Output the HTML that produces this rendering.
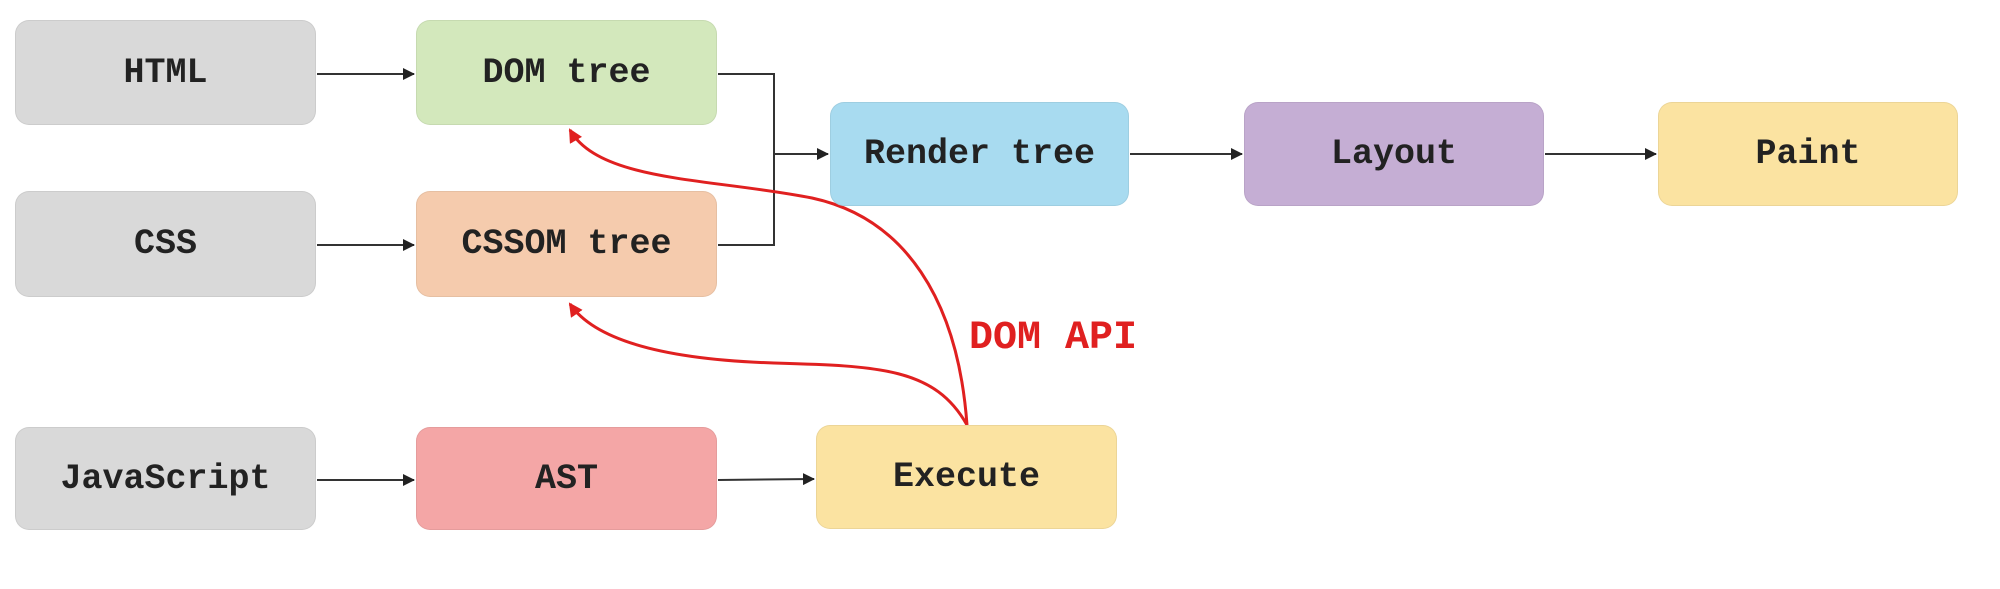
<!DOCTYPE html>
<html><head><meta charset="utf-8"><style>
body{margin:0;background:#fff;width:2000px;height:589px;overflow:hidden;position:relative;font-family:"Liberation Mono","DejaVu Sans Mono",monospace;}
.b{position:absolute;border-radius:14px;display:flex;align-items:center;justify-content:center;font-weight:bold;font-size:35px;color:#222;box-sizing:border-box;border:1px solid rgba(0,0,0,0.06)}
svg{position:absolute;left:0;top:0}
</style></head><body>
<svg width="2000" height="589">
<defs>
<marker id="a" markerWidth="12" markerHeight="12" refX="11" refY="6" orient="auto" markerUnits="userSpaceOnUse"><path d="M0,0 L12,6 L0,12 z" fill="#222"/></marker>
<marker id="r" markerWidth="14" markerHeight="14" refX="12" refY="7" orient="auto" markerUnits="userSpaceOnUse"><path d="M0,0 L14,7 L0,14 z" fill="#e02020"/></marker>
</defs>
<g stroke="#333" stroke-width="2" fill="none">
<line x1="317" y1="74" x2="414" y2="74" marker-end="url(#a)"/>
<line x1="317" y1="245" x2="414" y2="245" marker-end="url(#a)"/>
<line x1="317" y1="480" x2="414" y2="480" marker-end="url(#a)"/>
<line x1="718" y1="480" x2="814" y2="479" marker-end="url(#a)"/>
<polyline points="718,74 774,74 774,245 718,245"/>
<line x1="774" y1="154" x2="828" y2="154" marker-end="url(#a)"/>
<line x1="1130" y1="154" x2="1242" y2="154" marker-end="url(#a)"/>
<line x1="1545" y1="154" x2="1656" y2="154" marker-end="url(#a)"/>
</g>
<g stroke="#e02020" stroke-width="3" fill="none">
<path d="M967,425 C958,300 905,218 812,198 C710,178 600,182 570,130" marker-end="url(#r)"/>
<path d="M967,425 C935,368 880,366 774,363 C680,360 598,345 570,304" marker-end="url(#r)"/>
</g>
<text x="969" y="348" font-family="Liberation Mono, monospace" font-weight="bold" font-size="40" fill="#e02020">DOM API</text>
</svg>
<div class="b" style="left:15px;top:20px;width:301px;height:105px;background:#d9d9d9">HTML</div>
<div class="b" style="left:416px;top:20px;width:301px;height:105px;background:#d3e8bc">DOM tree</div>
<div class="b" style="left:15px;top:191px;width:301px;height:106px;background:#d9d9d9">CSS</div>
<div class="b" style="left:416px;top:191px;width:301px;height:106px;background:#f5cbad">CSSOM tree</div>
<div class="b" style="left:15px;top:427px;width:301px;height:103px;background:#d9d9d9">JavaScript</div>
<div class="b" style="left:416px;top:427px;width:301px;height:103px;background:#f4a6a6">AST</div>
<div class="b" style="left:816px;top:425px;width:301px;height:104px;background:#fbe3a1">Execute</div>
<div class="b" style="left:830px;top:102px;width:299px;height:104px;background:#a8dbf0">Render tree</div>
<div class="b" style="left:1244px;top:102px;width:300px;height:104px;background:#c5aed4">Layout</div>
<div class="b" style="left:1658px;top:102px;width:300px;height:104px;background:#fbe3a1">Paint</div>
</body></html>
